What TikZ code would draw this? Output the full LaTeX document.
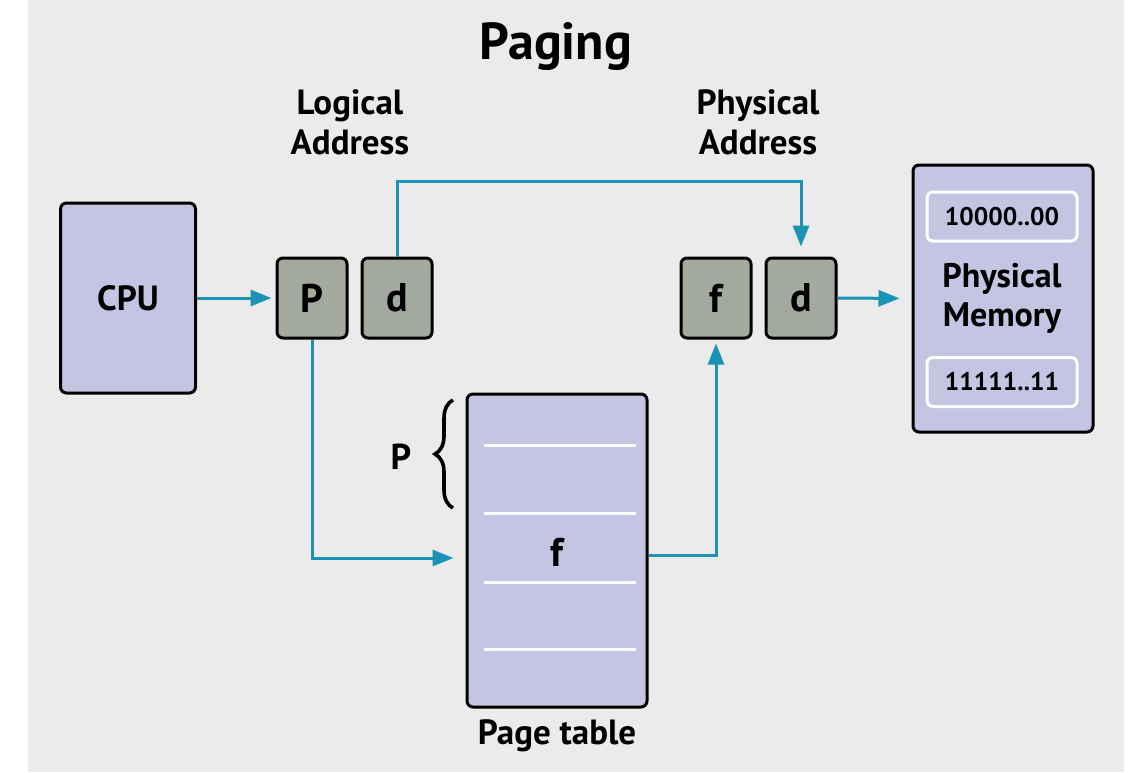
\documentclass[tikz,border=0pt]{standalone}
\usepackage{fontspec}
\setmainfont{PT Sans}
\usetikzlibrary{arrows.meta,decorations.pathreplacing}
\definecolor{bgc}{HTML}{EBEBEB}
\definecolor{lav}{HTML}{C3C5E3}
\definecolor{gbox}{HTML}{A3A99C}
\definecolor{teal}{HTML}{1A93B7}
\tikzset{
  x=1pt,y=-1pt,
  lavbox/.style={draw=black,line width=3pt,fill=lav,rounded corners=6pt,inner sep=0pt},
  regbox/.style={draw=black,line width=3pt,fill=gbox,rounded corners=6pt,minimum width=70pt,minimum height=80pt,inner sep=0pt,font=\bfseries\fontsize{40}{40}\selectfont},
  membox/.style={draw=white,line width=3pt,fill=lav,rounded corners=6pt,minimum width=150pt,minimum height=49pt,inner sep=0pt,font=\bfseries\fontsize{25.5}{25.5}\selectfont},
  conn/.style={draw=teal,line width=3pt,-{Triangle[length=21pt,width=16pt]},shorten >=4pt},
  lbl/.style={font=\bfseries\fontsize{35}{40}\selectfont,align=center,inner sep=0pt},
  row/.style={draw=white,line width=3pt}
}
\begin{document}
\begin{tikzpicture}
\fill[white] (0,0) rectangle (1128,772);
\fill[bgc] (28,0) rectangle (1124,772);
\node[font=\bfseries\fontsize{52}{52}\selectfont,inner sep=0pt] (title) at (556,47) {Paging};
\node[lbl] (lal) at (350,122) {Logical\\Address};
\node[lbl] (pal) at (758,122) {Physical\\Address};
% CPU
\node[lavbox,minimum width=135pt,minimum height=190pt,font=\bfseries\fontsize{35}{35}\selectfont] (cpu) at (128,298) {CPU};
% logical address registers
\node[regbox] (p) at (312,298) {P};
\node[regbox] (d) at (397,298) {d};
% physical address registers
\node[regbox] (f) at (716,298) {f};
\node[regbox] (d2) at (801,298) {d};
% physical memory
\node[lavbox,minimum width=180pt,minimum height=267pt] (mem) at (1003,298.5) {};
\node[membox] (m0) at (1002,216.5) {10000..00};
\node[membox] (m1) at (1002,382) {11111..11};
\node[lbl,font=\bfseries\fontsize{34}{39}\selectfont] (memlbl) at (1002,298) {Physical\\Memory};
% page table
\node[lavbox,minimum width=180pt,minimum height=313pt] (pt) at (557,550.5) {};
\draw[row] (484,445) -- (636,445);
\draw[row] (484,513) -- (636,513);
\draw[row] (484,582) -- (636,582);
\draw[row] (484,649) -- (636,649);
\node[font=\bfseries\fontsize{40}{40}\selectfont,inner sep=0pt] (fent) at (557,552) {f};
\node[font=\bfseries\fontsize{35}{35}\selectfont,inner sep=0pt] (ptl) at (557,736) {Page table};
% brace
\coordinate (bt) at (453,400);
\coordinate (bb) at (453,508);
\draw[line width=3.6pt,decorate,decoration={brace,amplitude=18pt}] (bb) -- (bt);
\node[font=\bfseries\fontsize{36}{36}\selectfont,inner sep=0pt] (plbl) at (401,457) {P};
% connectors
\draw[conn] (cpu.east) -- (p.west);
\draw[conn,shorten >=12pt] (d2.east) -- (mem.west);
\draw[conn,shorten >=10pt] (d.north) |- (599,181) -| (d2.north);
\draw[conn,shorten >=12pt] (p.south) |- (pt.west |- 0,558);
\draw[conn] (pt.east |- 0,555) -| (f.south);
\end{tikzpicture}
\end{document}
